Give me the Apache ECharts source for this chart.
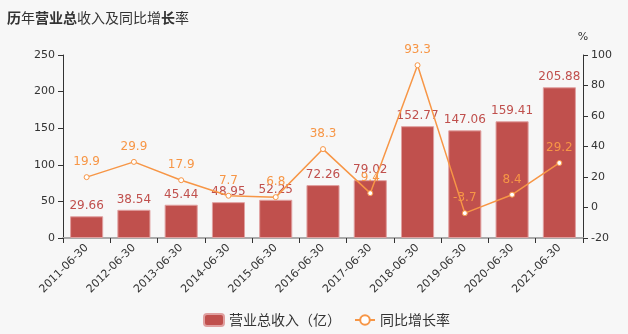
<!DOCTYPE html>
<html>
<head>
<meta charset="utf-8">
<script src="https://cdn.jsdelivr.net/npm/echarts@6/dist/echarts.min.js"></script>
<style>
  html, body { margin: 0; padding: 0; background: #f7f7f7; }
  #main { width: 628px; height: 334px; }
</style>
</head>
<body>
<div id="main"></div>
<script>
// Report dates (half-year periods)
const categories = ['2011-06-30', '2012-06-30', '2013-06-30', '2014-06-30', '2015-06-30', '2016-06-30', '2017-06-30', '2018-06-30', '2019-06-30', '2020-06-30', '2021-06-30'];
// Total operating revenue, 100 million yuan
const revenue = [29.66, 38.54, 45.44, 48.95, 52.25, 72.26, 79.02, 152.77, 147.06, 159.41, 205.88];
// Year-over-year growth, %
const growth = [19.9, 29.9, 17.9, 7.7, 6.8, 38.3, 9.4, 93.3, -3.7, 8.4, 29.2];

const barColor = '#c0504d';
const lineColor = '#f79646';
const font = '"DejaVu Sans", "Noto Sans CJK SC", sans-serif';
const cjkFont = '"Noto Sans CJK SC", sans-serif';

const chart = echarts.init(document.getElementById('main'));
chart.setOption({
  backgroundColor: '#f7f7f7',
  textStyle: { fontFamily: font },
  title: {
    text: '{b|历}{n|年}{b|营业总}{n|收入及同比增}{b|长}{n|率}',
    left: 2,
    top: 6,
    textStyle: {
      rich: {
        b: { fontSize: 14, fontWeight: 'bold', color: '#333', fontFamily: cjkFont },
        n: { fontSize: 14, fontWeight: 'normal', color: '#333', fontFamily: cjkFont }
      }
    }
  },
  legend: {
    bottom: 2,
    left: 198,
    itemGap: 13,
    textStyle: { fontSize: 14, color: '#333', fontFamily: cjkFont },
    data: [
      { name: '营业总收入（亿）', icon: 'roundRect', itemStyle: { color: barColor } },
      { name: '同比增长率' }
    ],
    itemWidth: 20,
    itemHeight: 12
  },
  grid: { left: 63, right: 45, top: 55, bottom: 96 },
  xAxis: {
    type: 'category',
    data: categories,
    axisLine: { lineStyle: { color: '#aaa', width: 2 } },
    axisTick: { show: true, alignWithLabel: false, lineStyle: { color: '#333' } },
    axisLabel: { rotate: 45, fontSize: 11, color: '#333', margin: 8, interval: 0 }
  },
  yAxis: [
    {
      type: 'value',
      min: 0, max: 250, interval: 50,
      axisLine: { show: true, lineStyle: { color: '#333' } },
      axisTick: { show: true, lineStyle: { color: '#333' } },
      axisLabel: { fontSize: 11, color: '#333' },
      splitLine: { show: false }
    },
    {
      type: 'value',
      name: '%',
      nameGap: 12,
      nameTextStyle: { fontSize: 11, color: '#333', align: 'center' },
      min: -20, max: 100, interval: 20,
      axisLine: { show: true, lineStyle: { color: '#333' } },
      axisTick: { show: true, lineStyle: { color: '#333' } },
      axisLabel: { fontSize: 11, color: '#333' },
      splitLine: { show: false }
    }
  ],
  series: [
    {
      name: '营业总收入（亿）',
      type: 'bar',
      data: revenue,
      barWidth: '70%',
      itemStyle: { color: barColor, borderColor: '#e0a0a0', borderWidth: 1 },
      label: { show: true, position: 'top', color: barColor, fontSize: 12, distance: 4 }
    },
    {
      name: '同比增长率',
      type: 'line',
      yAxisIndex: 1,
      data: growth,
      symbol: 'circle',
      symbolSize: 5,
      lineStyle: { color: lineColor, width: 1.5 },
      itemStyle: { color: '#fff', borderColor: lineColor, borderWidth: 1 },
      label: { show: true, position: 'top', color: lineColor, fontSize: 12, distance: 6 },
      z: 5
    }
  ]
});
</script>
</body>
</html>
